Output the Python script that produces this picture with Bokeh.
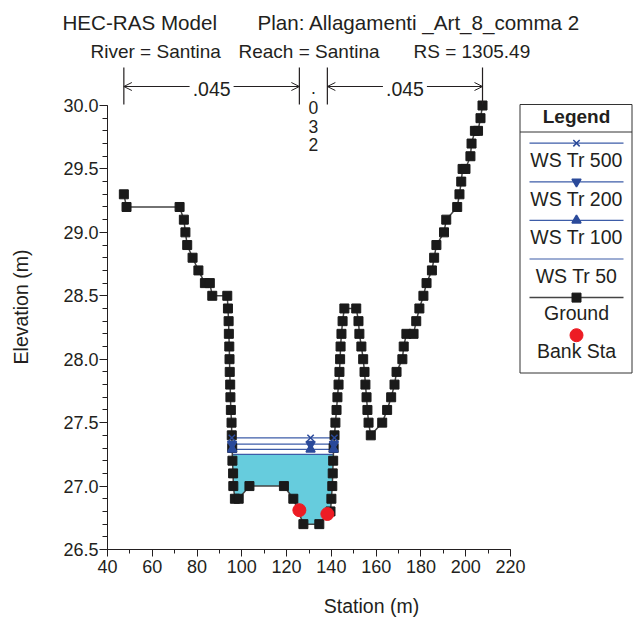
import numpy as np
from bokeh.plotting import figure
from bokeh.layouts import column
from bokeh.models import Range1d, SingleIntervalTicker, PrintfTickFormatter, Arrow, OpenHead
from bokeh.core.properties import value
from bokeh.embed import file_html
from bokeh.resources import INLINE

# ---------------- data ----------------
ground_station = [47.3, 48.5, 72.2, 74.1, 74.8, 75.6, 78.0, 80.6, 83.5, 85.7,
                  86.8, 93.5, 93.8, 94.1, 94.2, 94.4, 94.5, 94.6, 94.8, 94.9,
                  95.1, 95.4, 95.5, 95.7, 95.8, 96.1, 96.2, 96.9, 98.6, 103.4,
                  118.8, 123.0, 127.5, 134.6, 139.6, 140.0, 140.4, 140.6, 140.8, 141.0,
                  141.4, 141.8, 142.3, 142.7, 143.2, 143.6, 143.9, 144.1, 144.5, 145.0,
                  145.8, 151.1, 152.1, 152.5, 153.4, 154.2, 154.8, 155.2, 155.7, 156.1,
                  156.6, 157.6, 162.7, 164.9, 166.7, 168.2, 169.1, 171.7, 172.3, 173.5,
                  176.7, 177.9, 179.3, 181.1, 182.5, 184.9, 185.9, 186.9, 190.3, 191.3,
                  196.2, 197.2, 198.0, 198.6, 199.9, 202.1, 202.6, 204.1, 205.5, 206.6,
                  207.5]
ground_elev = [29.3, 29.2, 29.2, 29.1, 29.0, 28.9, 28.8, 28.7, 28.6, 28.6,
               28.5, 28.5, 28.4, 28.3, 28.2, 28.1, 28.0, 27.9, 27.8, 27.7,
               27.6, 27.5, 27.4, 27.3, 27.2, 27.1, 27.0, 26.9, 26.9, 27.0,
               27.0, 26.9, 26.7, 26.7, 26.8, 26.9, 27.0, 27.1, 27.2, 27.3,
               27.4, 27.5, 27.6, 27.7, 27.8, 27.9, 28.0, 28.1, 28.2, 28.3,
               28.4, 28.4, 28.3, 28.2, 28.1, 28.0, 27.9, 27.8, 27.7, 27.6,
               27.5, 27.4, 27.5, 27.6, 27.7, 27.8, 27.9, 28.0, 28.1, 28.2,
               28.2, 28.3, 28.4, 28.5, 28.6, 28.7, 28.8, 28.9, 29.0, 29.1,
               29.2, 29.3, 29.4, 29.5, 29.5, 29.6, 29.7, 29.8, 29.8, 29.9,
               30.0]
bank_station = [125.7, 138.2]
bank_elev = [26.81, 26.78]

ws_names = ["WS Tr 500", "WS Tr 200", "WS Tr 100", "WS Tr 50"]
ws_elev = [27.38, 27.33, 27.29, 27.25]
ws_markers = ["x", "inverted_triangle", "triangle", None]
ws_mid_station = 130.7

manning_n = [".045", ".032", ".045"]

title1 = ["HEC-RAS Model", "Plan: Allagamenti _Art_8_comma 2"]
title2 = ["River = Santina", "Reach = Santina", "RS = 1305.49"]
x_label = "Station (m)"
y_label = "Elevation (m)"

# ---------------- styling / layout ----------------
FONT = "Liberation Sans"
TXT = "#231F20"
BLUE = "#3D5CA8"
BLUE_M = "#2B4A9A"
FILL = "#66CCDD"
RED = "#ED1C24"
GLINE = "#444444"
GMARK = "#1A1A1A"

W, H = 635, 619
HT = 64                      # header height (titles)
SX = (510 - 107) / 180.0
SY = (549 - 105) / 3.5


def dx(px):
    return 40 + (px - 107) / SX


def dy(py):
    return 30.0 - (py - 105) / SY


# ---------- header figure with the two title lines ----------
hdr = figure(width=W, height=HT, x_range=Range1d(0, W), y_range=Range1d(HT, 0),
             output_backend="svg", toolbar_location=None, min_border=0,
             x_axis_type=None, y_axis_type=None)
hdr.outline_line_color = None
hdr.grid.visible = False
hdr.border_fill_color = "white"
hdr.background_fill_color = "white"


def htxt(x, y, s, size):
    hdr.text(x=[x], y=[y], text=[s], text_font=value(FONT), text_font_size=size,
             text_align="left", text_baseline="middle", text_color=TXT)


htxt(62, 22, title1[0], "20.6px")
htxt(257, 22, title1[1], "20.6px")
htxt(90, 51, title2[0], "19px")
htxt(238, 51, title2[1], "19px")
htxt(413, 51, title2[2], "19px")

# ---------- main figure ----------
p = figure(width=W, height=H - HT,
           x_range=Range1d(dx(107), dx(W)), y_range=Range1d(dy(549), dy(HT)),
           output_backend="svg", toolbar_location=None,
           min_border_left=107, min_border_right=0, min_border_top=0,
           min_border_bottom=H - 549)
p.outline_line_color = None
p.grid.visible = False
p.background_fill_color = "white"
p.border_fill_color = "white"

for fig in (hdr, p):
    try:
        fig.frame_align = False
    except Exception:
        pass

# axes
p.xaxis.bounds = (40, 220)
p.yaxis.bounds = (26.5, 30.0)
p.xaxis.ticker = SingleIntervalTicker(interval=20, num_minor_ticks=2)
p.yaxis.ticker = SingleIntervalTicker(interval=0.5, num_minor_ticks=5)
p.yaxis.formatter = PrintfTickFormatter(format="%.1f")
p.xaxis.axis_label = x_label
p.yaxis.axis_label = y_label
for ax in (p.xaxis, p.yaxis):
    ax.axis_label_text_font = FONT
    ax.axis_label_text_font_size = "19.5px"
    ax.axis_label_text_font_style = "normal"
    ax.axis_label_text_color = TXT
    ax.major_label_text_font = FONT
    ax.major_label_text_font_size = "18px"
    ax.major_label_text_color = TXT
    ax.axis_line_color = TXT
    ax.major_tick_line_color = TXT
    ax.minor_tick_line_color = TXT
    ax.major_tick_in = 0
    ax.minor_tick_in = 0
p.xaxis.major_label_standoff = 3
p.yaxis.major_label_standoff = 1
p.xaxis.major_tick_out = 7
p.xaxis.minor_tick_out = 4
p.yaxis.major_tick_out = 8
p.yaxis.minor_tick_out = 5
p.xaxis.axis_label_standoff = 19
p.yaxis.axis_label_standoff = 28

gs = np.array(ground_station)
ge = np.array(ground_elev)
imin = int(np.argmin(ge))


def extent(ws):
    i = imin
    while ge[i] < ws:
        i -= 1
    xl = float(np.interp(ws, [ge[i + 1], ge[i]], [gs[i + 1], gs[i]]))
    j = imin
    while ge[j] < ws:
        j += 1
    xr = float(np.interp(ws, [ge[j - 1], ge[j]], [gs[j - 1], gs[j]]))
    return xl, xr, i, j


# water fill for lowest profile
ws_low = ws_elev[-1]
xl, xr, i, j = extent(ws_low)
px_ = [xl] + list(gs[i + 1:j]) + [xr]
py_ = [ws_low] + list(ge[i + 1:j]) + [ws_low]
p.patch(px_, py_, fill_color=FILL, line_color=None)

# WS lines
ws_marks = []
for name, ws, mk in zip(ws_names, ws_elev, ws_markers):
    a, b, _, _ = extent(ws)
    p.line([a, b], [ws, ws], line_color=BLUE, line_width=1.2)
    if mk:
        ws_marks.append(([a, ws_mid_station, b], [ws, ws, ws], mk))

# ground
p.line(ground_station, ground_elev, line_color=GLINE, line_width=1.5)
p.scatter(ground_station, ground_elev, marker="square", size=9,
          fill_color=GMARK, line_color=GMARK)

for xs, ys, mk in ws_marks:
    p.scatter(xs, ys, marker=mk, size=9, fill_color=BLUE_M, line_color=BLUE_M, line_width=1.5)

p.scatter(bank_station, bank_elev, marker="circle", size=13, fill_color=RED, line_color=RED)


def txt(x, y, s, size="19.5px", align="left", style="normal"):
    p.text(x=[x], y=[y], text=[s], text_font=value(FONT), text_font_size=size,
           text_align=align, text_baseline="middle", text_color=TXT,
           text_font_style=style)


# Manning's n dimension marks
edges = [ground_station[0], bank_station[0], bank_station[1], ground_station[-1]]
for e in edges:
    p.segment(x0=[e], y0=[dy(67)], x1=[e], y1=[dy(104)], line_color=TXT, line_width=1.2)

arrow_y = dy(86)
half = 22 / SX
for k in (0, 2):
    a, b = edges[k], edges[k + 1]
    c = (a + b) / 2
    txt(c, dy(88), manning_n[k], "19.5px", "center")
    for tip, tail in ((a, c - half), (b, c + half)):
        p.add_layout(Arrow(end=OpenHead(size=8, line_color=TXT, line_width=1),
                           x_start=tail, y_start=arrow_y, x_end=tip, y_end=arrow_y,
                           line_color=TXT, line_width=1))
cmid = (edges[1] + edges[2]) / 2
for ch, ctr in zip(manning_n[1], [87, 107, 125.5, 144]):
    txt(cmid, dy(ctr), ch, "17.5px", "center")

# legend box
LX0, LX1, LC = 519.5, 631.5, 576
p.quad(left=[dx(LX0)], right=[dx(LX1)], top=[dy(104)], bottom=[dy(372.5)],
       fill_color="white", line_color="#333333", line_width=1)
p.segment(x0=[dx(LX0)], y0=[dy(131.5)], x1=[dx(LX1)], y1=[dy(131.5)],
          line_color="#333333", line_width=1)
txt(dx(LC), dy(116), "Legend", "19px", "center", "bold")
row0, step = 142.7, 38.6
for k, (name, mk) in enumerate(zip(ws_names, ws_markers)):
    ly = row0 + step * k
    p.line([dx(529), dx(623)], [dy(ly), dy(ly)], line_color=BLUE, line_width=1.2)
    if mk:
        p.scatter([dx(LC)], [dy(ly)], marker=mk, size=9, fill_color=BLUE_M,
                  line_color=BLUE_M, line_width=1.5)
    txt(dx(LC), dy(ly + 17), name, "19.5px", "center")
ly = row0 + step * 4
p.line([dx(529), dx(623)], [dy(ly), dy(ly)], line_color=GLINE, line_width=1.5)
p.scatter([dx(LC)], [dy(ly)], marker="square", size=9, fill_color=GMARK, line_color=GMARK)
txt(dx(LC), dy(ly + 15.5), "Ground", "19.5px", "center")
ly = row0 + step * 5 - 1
p.scatter([dx(LC)], [dy(ly)], marker="circle", size=13, fill_color=RED, line_color=RED)
txt(dx(LC), dy(ly + 16), "Bank Sta", "19.5px", "center")

layout = column(hdr, p, spacing=0)
open("out.html", "w").write(file_html(layout, INLINE))
